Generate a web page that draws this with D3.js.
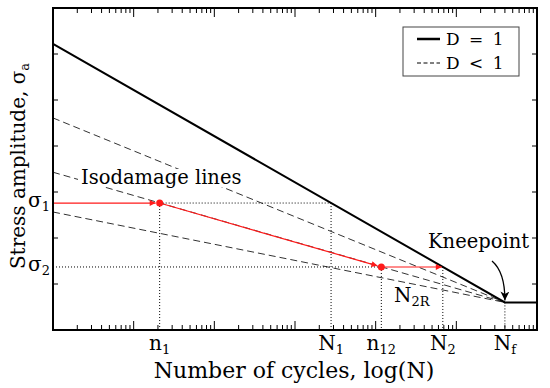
<!DOCTYPE html>
<html><head><meta charset="utf-8">
<script src="https://cdn.jsdelivr.net/npm/d3@7"></script>
</head><body style="margin:0;background:#fff">
<svg id="c" width="550" height="388" font-family="DejaVu Serif" style="display:block"></svg>
<script>
// ---- data ----
const xDomain = [1, 1e6];            // number of cycles (log axis)
const yDomain = [0, 7];              // stress amplitude
const yTicks = [1, 2, 3, 4, 5, 6];
const sigmaNames = [["σ","1"], ["σ","2"]];
const sigmaValues = [2.76, 1.37];
const cycleNames = [["n","1"], ["N","1"], ["n","12"], ["N","2"], ["N","f"]];
const cycleValues = [21, 2800, 11750, 68000, 400000];
const kneeCycles = 400000, kneeStress = 0.60;
const basquin = [[1, 6.22], [kneeCycles, kneeStress], [1e6, kneeStress]];   // D = 1
const isoStarts = [4.61, 3.43, 2.565];                                       // D < 1 lines at N = 1
const legendItems = ["D = 1", "D < 1"];

// ---- layout ----
const svg = d3.select("#c");
const L = 53, R = 537, T = 8, B = 330;
const x = d3.scaleLog().domain(xDomain).range([L, R]);
const y = d3.scaleLinear().domain(yDomain).range([B, T]);
const line = d3.line().x(d => x(d[0])).y(d => y(d[1]));

function sub(sel, base, s, subSize) {
  sel.append("tspan").text(base);
  sel.append("tspan").attr("dy", "0.28em").attr("font-size", subSize).text(s);
}

// defs
const defs = svg.append("defs");
defs.append("marker").attr("id", "ar").attr("viewBox", "0 0 10 10").attr("refX", 10).attr("refY", 5)
  .attr("markerWidth", 8).attr("markerHeight", 6).attr("markerUnits", "userSpaceOnUse").attr("orient", "auto")
  .append("path").attr("d", "M0,0 L10,5 L0,10 Z").attr("fill", "#ff1a1a");
defs.append("marker").attr("id", "ak").attr("viewBox", "0 0 10 10").attr("refX", 10).attr("refY", 5)
  .attr("markerWidth", 12).attr("markerHeight", 9).attr("markerUnits", "userSpaceOnUse").attr("orient", "auto")
  .append("path").attr("d", "M0,0 L10,5 L0,10 L3,5 Z").attr("fill", "#000");

// dashed isodamage lines
svg.append("g").selectAll("path").data(isoStarts).join("path")
  .attr("d", s => line([[1, s], [kneeCycles, kneeStress]]))
  .attr("fill", "none").attr("stroke", "#333").attr("stroke-width", 1).attr("stroke-dasharray", "7,4");

// dotted guide lines
const dot = svg.append("g").attr("fill", "none").attr("stroke", "#000").attr("stroke-width", 1).attr("stroke-dasharray", "1,2");
dot.append("path").attr("d", line([[cycleValues[0], sigmaValues[0]], [cycleValues[1], sigmaValues[0]]]));
dot.append("path").attr("d", line([[1, sigmaValues[1]], [cycleValues[2], sigmaValues[1]]]));
const vStress = [sigmaValues[0], sigmaValues[0], sigmaValues[1], sigmaValues[1], kneeStress];
cycleValues.forEach((c, i) => dot.append("path").attr("d", line([[c, vStress[i]], [c, 0]])));

// D = 1 curve
svg.append("path").attr("d", line(basquin)).attr("fill", "none").attr("stroke", "#000").attr("stroke-width", 2);

// red loading path
function arrow(p0, p1, shrink) {
  const x0 = x(p0[0]), y0 = y(p0[1]), x1 = x(p1[0]), y1 = y(p1[1]);
  const len = Math.hypot(x1 - x0, y1 - y0);
  const f = (len - shrink) / len;
  svg.append("line").attr("x1", x0).attr("y1", y0).attr("x2", x0 + (x1 - x0) * f).attr("y2", y0 + (y1 - y0) * f)
    .attr("stroke", "#ff1a1a").attr("stroke-width", 1.2).attr("marker-end", "url(#ar)");
}
const pA = [1, sigmaValues[0]], pB = [cycleValues[0], sigmaValues[0]], pC = [cycleValues[2], sigmaValues[1]], pD = [cycleValues[3], sigmaValues[1]];
arrow(pA, pB, 4);
arrow(pB, pC, 4);
arrow(pC, pD, 1);
svg.append("g").selectAll("circle").data([pB, pC]).join("circle")
  .attr("cx", d => x(d[0])).attr("cy", d => y(d[1])).attr("r", 3.5).attr("fill", "#ff1a1a");

// frame and ticks
const tk = svg.append("g").attr("stroke", "#000").attr("stroke-width", 1);
x.ticks().forEach(v => {
  const major = Math.abs(Math.log10(v) - Math.round(Math.log10(v))) < 1e-9;
  if (v <= xDomain[0] || v >= xDomain[1]) return;
  const len = major ? 9 : 5;
  tk.append("line").attr("x1", x(v)).attr("x2", x(v)).attr("y1", B).attr("y2", B - len);
  tk.append("line").attr("x1", x(v)).attr("x2", x(v)).attr("y1", T).attr("y2", T + len);
});
yTicks.forEach(v => {
  tk.append("line").attr("x1", L).attr("x2", L + 5).attr("y1", y(v)).attr("y2", y(v));
  tk.append("line").attr("x1", R).attr("x2", R - 5).attr("y1", y(v)).attr("y2", y(v));
});
svg.append("rect").attr("x", L).attr("y", T).attr("width", R - L).attr("height", B - T)
  .attr("fill", "none").attr("stroke", "#000").attr("stroke-width", 2);

// x labels
cycleValues.forEach((c, i) => {
  const t = svg.append("text").attr("x", x(c)).attr("y", 350).attr("text-anchor", "middle").attr("font-size", 20);
  sub(t, cycleNames[i][0], cycleNames[i][1], 13);
});
// y labels
sigmaValues.forEach((s, i) => {
  const t = svg.append("text").attr("x", 50).attr("y", y(s) + 4).attr("text-anchor", "end").attr("font-size", 20);
  sub(t, sigmaNames[i][0], sigmaNames[i][1], 13);
});

// axis titles
svg.append("text").attr("x", 294).attr("y", 378).attr("text-anchor", "middle").attr("font-size", 22)
  .text("Number of cycles, log(N)");
const yt = svg.append("text").attr("transform", "translate(25,166) rotate(-90)").attr("text-anchor", "middle")
  .attr("font-size", 20);
sub(yt, "Stress amplitude, σ", "a", 13);

// annotations
const iso = svg.append("g");
const isoT = iso.append("text").attr("x", 81).attr("y", 184).attr("font-size", 19.5).text("Isodamage lines");
const bb = isoT.node().getBBox();
iso.insert("rect", "text").attr("x", bb.x - 3).attr("y", bb.y + 3).attr("width", bb.width + 6).attr("height", bb.height - 5).attr("fill", "#fff");

svg.append("text").attr("x", 428).attr("y", 248).attr("font-size", 19.5).text("Kneepoint");
svg.append("path").attr("d", `M492,261 Q505,272 ${x(kneeCycles)},${y(kneeStress) - 2}`)
  .attr("fill", "none").attr("stroke", "#000").attr("stroke-width", 1.3).attr("marker-end", "url(#ak)");
const n2r = svg.append("text").attr("x", 394).attr("y", 302).attr("font-size", 20);
sub(n2r, "N", "2R", 13);

// legend
const lg = svg.append("g");
lg.append("rect").attr("x", 403).attr("y", 27).attr("width", 116).attr("height", 49).attr("fill", "#fff").attr("stroke", "#444").attr("stroke-width", 1);
legendItems.forEach((t, i) => {
  const yy = 39 + i * 24;
  lg.append("line").attr("x1", 417).attr("x2", 440).attr("y1", yy).attr("y2", yy).attr("stroke", "#000")
    .attr("stroke-width", i === 0 ? 2.5 : 1).attr("stroke-dasharray", i === 0 ? null : "4,2.5");
  lg.append("text").attr("x", 446).attr("y", yy + 6).attr("font-size", 17).attr("letter-spacing", 2).text(t);
});
</script></body></html>
